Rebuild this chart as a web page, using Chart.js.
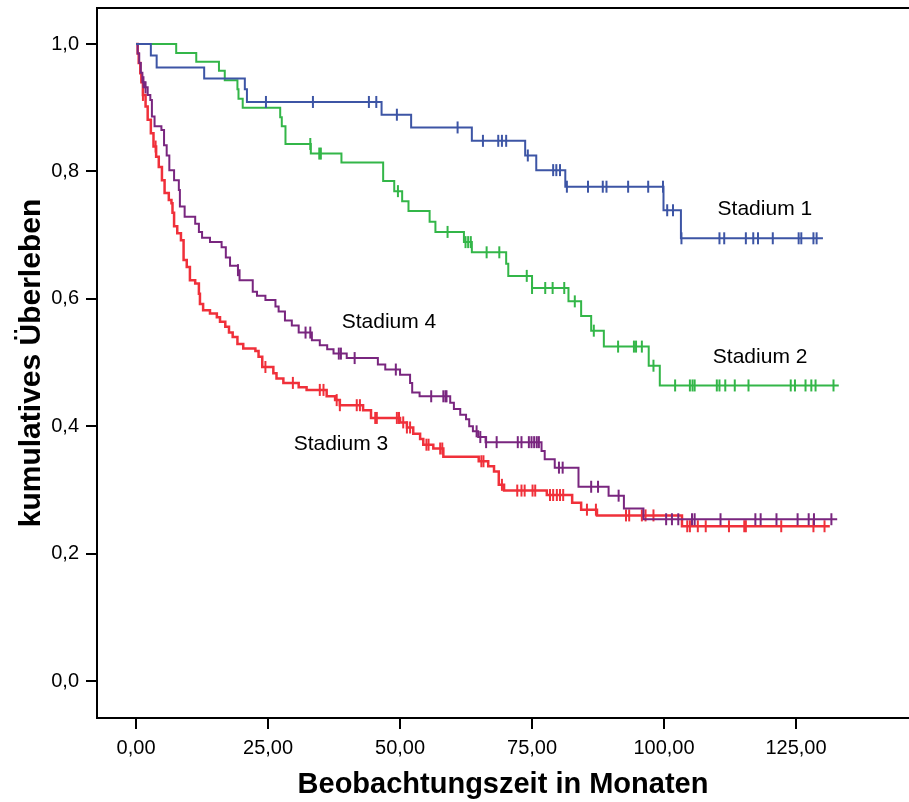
<!DOCTYPE html>
<html>
<head>
<meta charset="utf-8">
<script src="https://cdn.jsdelivr.net/npm/chart.js@4.4.0/dist/chart.umd.min.js"></script>
<style>
  html, body { margin: 0; padding: 0; background: #fff; }
  canvas { display: block; }
</style>
</head>
<body>
<canvas id="km" width="909" height="802"></canvas>
<script>
'use strict';

const TIME_TICKS = [0, 25, 50, 75, 100, 125];
const SURV_TICKS = [0, 0.2, 0.4, 0.6, 0.8, 1.0];
const STAGES = ['Stadium 1', 'Stadium 2', 'Stadium 3', 'Stadium 4'];

// Stadium 1: step times (months), survival after each step, censored times
const stage1Time = [0, 2.8, 3.9, 12.9, 20.6, 21.0, 46.5, 52.1, 63.6, 73.7, 75.8, 81.3, 99.9, 103.2, 130.1];
const stage1Surv = [1.0, 0.982, 0.963, 0.946, 0.929, 0.909, 0.889, 0.869, 0.848, 0.825, 0.802, 0.776, 0.739, 0.695, 0.695];
const stage1Censored = [24.6, 33.5, 44.1, 45.5, 49.4, 60.9, 65.7, 68.6, 69.3, 70.1, 74.2, 79.0, 79.6, 80.3, 81.6,
  85.6, 88.4, 89.1, 93.2, 97.0, 99.8, 100.6, 101.7, 103.3, 110.5, 111.4, 115.5, 116.9, 117.8, 120.6,
  125.5, 126.0, 128.3, 128.9];

// Stadium 2
const stage2Time = [0, 7.6, 11.4, 15.7, 16.8, 19.2, 19.4, 20.2, 27.3, 27.6, 28.3, 33.1, 38.9, 46.8, 48.9, 50.4,
  51.6, 55.6, 56.7, 62.1, 63.6, 70.1, 70.5, 75.0, 81.9, 84.3, 86.2, 88.6, 97.1, 99.2, 133.1];
const stage2Surv = [1.0, 0.986, 0.972, 0.958, 0.943, 0.929, 0.914, 0.9, 0.885, 0.871, 0.843, 0.828, 0.814, 0.785,
  0.769, 0.753, 0.738, 0.721, 0.705, 0.689, 0.673, 0.655, 0.636, 0.617, 0.596, 0.573, 0.55, 0.525, 0.495, 0.464, 0.464];
const stage2Censored = [33.0, 34.7, 35.0, 49.6, 59.0, 62.4, 62.9, 63.4, 66.4, 68.8, 74.0, 75.0, 77.5, 78.9, 81.1,
  83.1, 86.7, 91.3, 94.3, 94.7, 95.8, 98.0, 102.1, 104.9, 105.4, 105.8, 110.0, 110.5, 111.6, 113.4, 116.0,
  124.0, 124.8, 126.8, 127.9, 128.7, 132.1];

// Stadium 3
const stage3Time = [0, 0.3, 0.5, 0.8, 1.0, 1.3, 1.8, 2.2, 2.8, 3.3, 3.8, 4.3, 4.9, 5.4, 6.2, 6.7, 6.9, 7.2, 7.8,
  8.5, 9.0, 9.6, 10.2, 11.2, 11.9, 12.1, 12.7, 14.0, 15.3, 15.9, 16.9, 17.6, 18.3, 19.2, 20.3, 22.6, 23.2, 23.9,
  26.0, 26.6, 27.9, 30.8, 32.3, 36.1, 37.7, 38.6, 43.0, 44.5, 50.0, 51.3, 52.5, 53.8, 54.4, 56.3, 58.2, 64.9,
  66.7, 67.8, 68.7, 69.7, 77.8, 82.6, 84.3, 87.3, 103.4, 131.4];
const stage3Surv = [1.0, 0.985, 0.97, 0.954, 0.94, 0.92, 0.902, 0.881, 0.86, 0.839, 0.823, 0.807, 0.786, 0.766,
  0.755, 0.75, 0.735, 0.714, 0.703, 0.692, 0.661, 0.65, 0.629, 0.624, 0.608, 0.592, 0.582, 0.577, 0.571, 0.564,
  0.556, 0.547, 0.54, 0.529, 0.522, 0.518, 0.509, 0.493, 0.483, 0.475, 0.468, 0.461, 0.457, 0.447, 0.441, 0.433,
  0.425, 0.413, 0.406, 0.398, 0.388, 0.38, 0.371, 0.365, 0.352, 0.345, 0.337, 0.329, 0.308, 0.299, 0.292, 0.28,
  0.269, 0.26, 0.243, 0.243];
const stage3Censored = [1.3, 3.7, 24.5, 29.7, 34.8, 35.5, 38.0, 38.6, 41.8, 42.4, 45.3, 45.6, 49.4, 49.8, 50.6,
  51.3, 51.9, 55.0, 55.4, 57.6, 58.0, 65.4, 65.8, 69.3, 72.2, 73.0, 73.6, 75.1, 75.6, 78.4, 79.0, 79.7, 80.3,
  80.9, 85.4, 87.1, 92.8, 93.4, 95.8, 96.5, 98.0, 104.4, 104.9, 106.4, 107.9, 112.3, 115.2, 115.5, 122.2,
  128.3, 130.4];

// Stadium 4
const stage4Time = [0, 0.3, 0.6, 0.9, 1.2, 1.6, 2.2, 2.7, 3.0, 3.5, 4.8, 5.3, 5.8, 6.3, 7.2, 8.1, 8.3, 9.2, 11.2,
  11.9, 12.5, 14.0, 16.2, 17.0, 17.8, 19.3, 19.6, 22.1, 22.9, 24.5, 26.4, 27.0, 28.2, 29.5, 30.8, 33.3, 34.8,
  36.2, 37.4, 39.9, 45.8, 47.2, 50.0, 51.9, 52.3, 53.7, 59.5, 60.2, 61.4, 62.5, 63.1, 63.8, 64.8, 66.2, 76.8,
  77.4, 79.3, 83.8, 89.5, 92.4, 96.1, 132.8];
const stage4Surv = [1.0, 0.985, 0.97, 0.955, 0.94, 0.932, 0.92, 0.912, 0.886, 0.871, 0.865, 0.841, 0.825, 0.802,
  0.786, 0.771, 0.745, 0.729, 0.718, 0.705, 0.696, 0.689, 0.681, 0.665, 0.652, 0.645, 0.629, 0.611, 0.605, 0.598,
  0.588, 0.58, 0.566, 0.558, 0.547, 0.535, 0.527, 0.521, 0.514, 0.507, 0.497, 0.489, 0.481, 0.468, 0.453, 0.447,
  0.437, 0.427, 0.418, 0.411, 0.4, 0.392, 0.383, 0.375, 0.361, 0.348, 0.335, 0.305, 0.291, 0.271, 0.254, 0.254];
const stage4Censored = [1.4, 1.8, 19.3, 32.1, 33.0, 38.4, 38.8, 41.4, 49.2, 55.9, 58.2, 58.6, 58.8, 64.5, 65.2,
  66.3, 68.3, 72.3, 73.0, 74.4, 74.9, 75.4, 75.9, 76.3, 80.1, 80.8, 86.2, 87.5, 91.4, 100.4, 101.5, 102.7,
  105.3, 105.8, 110.7, 117.3, 118.3, 121.3, 125.3, 127.4, 128.4, 131.7];

const STAGE_COLORS = ['#3d55a5', '#33b648', '#f0303a', '#79267f'];
const FONT = '"Liberation Sans", Arial, sans-serif';

const toPoints = (times, surv) => times.map((t, i) => ({ x: t, y: surv[i] }));

// survival value of the step function at time t
const survivalAt = (times, surv, t) => {
  let s = surv[0];
  for (let i = 0; i < times.length; i++) {
    if (times[i] <= t) s = surv[i];
  }
  return s;
};

const curveDataset = (label, times, surv, color, width) => ({
  label,
  data: toPoints(times, surv),
  stepped: true,
  borderColor: color,
  borderWidth: width,
  pointRadius: 0,
  fill: false,
});

const censorDataset = (label, times, surv, censored, color) => ({
  label: label + ' zensiert',
  data: censored.map((t) => ({ x: t, y: survivalAt(times, surv, t) })),
  showLine: false,
  pointStyle: 'line',
  pointRotation: 90,
  pointRadius: 6,
  pointBorderWidth: 2,
  pointBorderColor: color,
  borderColor: color,
});

const stageData = [
  [stage1Time, stage1Surv, stage1Censored],
  [stage2Time, stage2Surv, stage2Censored],
  [stage4Time, stage4Surv, stage4Censored],
  [stage3Time, stage3Surv, stage3Censored],
];
const stageOrder = [0, 1, 3, 2];

const datasets = [];
stageData.forEach(([times, surv, cens], i) => {
  const k = stageOrder[i];
  datasets.push(curveDataset(STAGES[k], times, surv, STAGE_COLORS[k], k === 2 ? 2.5 : 2));
  datasets.push(censorDataset(STAGES[k], times, surv, cens, STAGE_COLORS[k]));
});

// label anchors in data units (months, survival)
const LABEL_SPOTS = [
  ['Stadium 1', 119.1, 0.74],
  ['Stadium 2', 118.2, 0.509],
  ['Stadium 3', 38.8, 0.371],
  ['Stadium 4', 47.9, 0.563],
];

const stageLabels = {
  id: 'stageLabels',
  afterDatasetsDraw(chart) {
    const { ctx, scales } = chart;
    ctx.save();
    ctx.font = '21px ' + FONT;
    ctx.fillStyle = '#000';
    ctx.textAlign = 'center';
    ctx.textBaseline = 'middle';
    LABEL_SPOTS.forEach(([name, t, s]) => {
      ctx.fillText(name, scales.x.getPixelForValue(t), scales.y.getPixelForValue(s));
    });
    ctx.restore();
  },
};

const topBorder = {
  id: 'topBorder',
  afterDraw(chart) {
    const { ctx, chartArea } = chart;
    ctx.save();
    ctx.strokeStyle = '#000';
    ctx.lineWidth = 2;
    ctx.beginPath();
    ctx.moveTo(chartArea.left - 1, chartArea.top);
    ctx.lineTo(chartArea.right + 2, chartArea.top);
    ctx.stroke();
    ctx.restore();
  },
};

new Chart(document.getElementById('km'), {
  type: 'line',
  data: { datasets },
  options: {
    responsive: false,
    animation: false,
    layout: { autoPadding: false, padding: { top: 8, left: 0, right: 0, bottom: 0 } },
    plugins: { legend: { display: false }, tooltip: { enabled: false } },
    scales: {
      x: {
        type: 'linear',
        min: -7.4,
        max: 146.4,
        afterBuildTicks: (scale) => { scale.ticks = TIME_TICKS.map((v) => ({ value: v })); },
        afterFit: (scale) => { scale.height = 84; },
        ticks: {
          color: '#000',
          font: { family: FONT, size: 20 },
          padding: 7,
          maxRotation: 0,
          callback: (v) => v.toFixed(2).replace('.', ','),
        },
        grid: { drawOnChartArea: false, drawTicks: true, tickLength: 11, color: '#000', lineWidth: 2 },
        border: { display: true, color: '#000', width: 2 },
        title: {
          display: true,
          text: 'Beobachtungszeit in Monaten',
          color: '#000',
          font: { family: FONT, size: 29, weight: 'bold' },
          padding: { top: 0, bottom: 0 },
        },
      },
      y: {
        type: 'linear',
        min: -0.058,
        max: 1.0565,
        afterBuildTicks: (scale) => { scale.ticks = SURV_TICKS.map((v) => ({ value: v })); },
        afterFit: (scale) => {
          scale.width = 97;
          scale.paddingTop = 0;
          scale.paddingBottom = 0;
        },
        ticks: {
          color: '#000',
          font: { family: FONT, size: 20 },
          padding: 7,
          callback: (v) => v.toFixed(1).replace('.', ','),
        },
        grid: { drawOnChartArea: false, drawTicks: true, tickLength: 11, color: '#000', lineWidth: 2 },
        border: { display: true, color: '#000', width: 2 },
        title: {
          display: true,
          text: 'kumulatives Überleben',
          color: '#000',
          font: { family: FONT, size: 30, weight: 'bold' },
          padding: { top: 14, bottom: 0 },
        },
      },
    },
  },
  plugins: [stageLabels, topBorder],
});
</script>
</body>
</html>
